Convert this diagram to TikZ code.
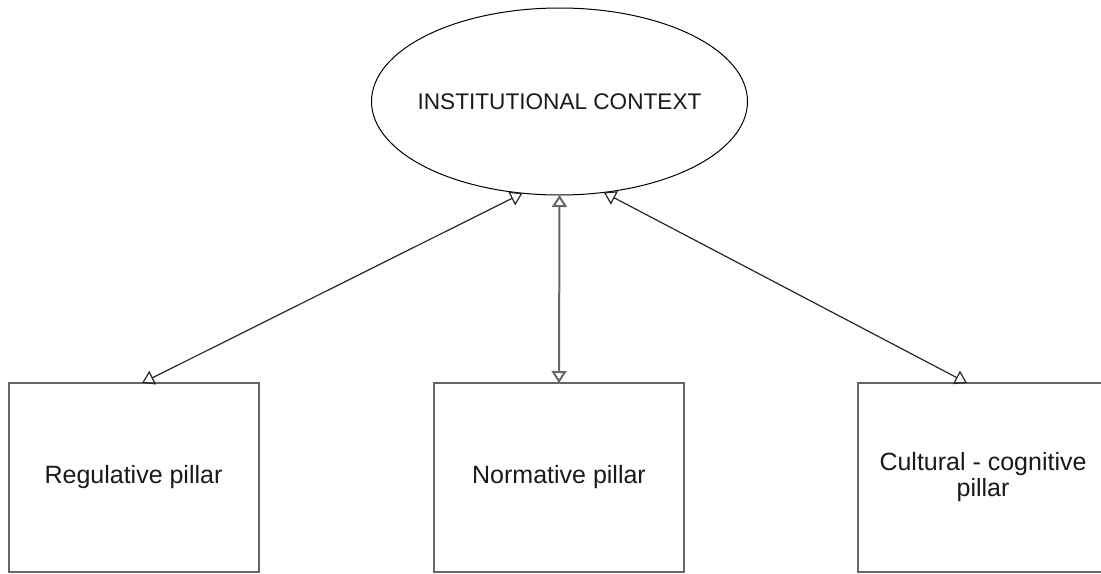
\documentclass[tikz,border=0pt]{standalone}
\usepackage{fontspec}
\setmainfont{Liberation Sans}
\usetikzlibrary{arrows.meta,shapes.geometric}
\tikzset{
  pillar/.style={draw=black!60, line width=1pt, minimum width=125pt, minimum height=94.5pt,
    inner sep=0pt, outer sep=0pt, align=center, font=\fontsize{12.5}{13}\selectfont, text=black!90},
  link/.style={{Triangle[open,length=6pt,width=7.5pt]}-{Triangle[open,length=6pt,width=7.5pt]},
    line width=0.6pt, black!85}
}
\begin{document}
\begin{tikzpicture}[x=0.5pt,y=-0.5pt]

            \clip (0,0) rectangle (1101,573);

            \node[draw, ellipse, minimum width=188pt, minimum height=93.5pt, inner sep=0pt, outer sep=0pt,
                  line width=0.5pt, text=black!90, font=\fontsize{11.3}{13}\selectfont]
                  (ctx) at (559.5,101.5) {\makebox[0pt]{INSTITUTIONAL CONTEXT}};

            \node[pillar] (reg) at (133.5,477.5) {Regulative pillar};
            \node[pillar] (norm) at (559,477.5) {Normative pillar};
            \node[pillar] (cult) at (983,477.5) {Cultural - cognitive\\pillar};

            \draw[link] ([xshift=4.25pt]reg.north) -- (ctx.248);
            \draw[link, line width=1pt, black!60] (norm.north) -- (ctx.south);
            \draw[link] ([xshift=-8pt]cult.north) -- (ctx.296);

        \end{tikzpicture}
\end{document}
